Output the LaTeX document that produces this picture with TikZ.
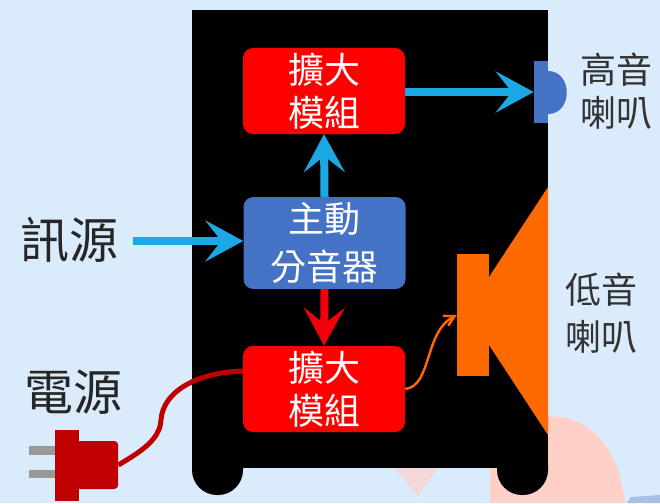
\documentclass[tikz,border=0pt]{standalone}
\usepackage{fontspec}
\setmainfont{Noto Sans CJK TC}
\usetikzlibrary{arrows.meta}
\definecolor{bgblue}{HTML}{DAEBFC}
\definecolor{blobpink}{HTML}{FFD0C8}
\definecolor{boxblue}{HTML}{4472C4}
\definecolor{flowblue}{HTML}{1CA8E4}
\definecolor{flowred}{HTML}{F00008}
\definecolor{cordred}{HTML}{C00000}
\definecolor{hornorange}{HTML}{FF6A00}
\tikzset{
  ampbox/.style={fill=red,rounded corners=10pt,minimum width=162pt,minimum height=86pt,
    text=white,align=center,font=\fontsize{36}{43}\selectfont},
  xoverbox/.style={ampbox,fill=boxblue,minimum height=92pt},
  bigtext/.style={font=\fontsize{49}{52}\selectfont,text=black!85},
  sidetext/.style={align=center,font=\fontsize{36}{43}\selectfont,text=black!80},
  flow/.style={line width=8pt,-{Stealth[length=38pt,width=41pt,inset=16pt]}},
}
\begin{document}
\begin{tikzpicture}[x=1pt,y=-1pt]
  \useasboundingbox (0,0) rectangle (660,503);
  \fill[bgblue] (0,0) rectangle (660,503);
  % background shapes
  \fill[blobpink!70!bgblue] (395,468) -- (438,468) -- (418,496) -- cycle;
  \fill[blobpink] (490,503) -- (490,468) -- (548,416)
    .. controls (600,416) and (620,460) .. (625,503) -- cycle;
  \fill[boxblue!35!bgblue] (627,503) -- (631,497) -- (660,495) -- (660,503) -- cycle;
  % cabinet
  \fill[black] (192,10) rectangle (548,468);
  \fill[black,rounded corners=25pt] (192,440) rectangle (243,495);
  \fill[black,rounded corners=25pt] (497,440) rectangle (548,495);
  % speakers
  \fill[hornorange] (489,277) -- (548,187) -- (548,435) -- (489,345) -- cycle;
  \node[fill=hornorange,minimum width=32pt,minimum height=122pt,inner sep=0pt] (woofer) at (473,315) {};
  \fill[boxblue] (548,71) .. controls (573,71) and (573,114) .. (548,114) -- cycle;
  \node[fill=boxblue,minimum width=14pt,minimum height=62pt,inner sep=0pt] (tweeter) at (541,92) {};
  % boxes
  \node[ampbox] (amphi) at (324,91) {擴大\\模組};
  \node[xoverbox] (xover) at (324.5,243) {主動\\[5pt]分音器};
  \node[ampbox] (amplo) at (324,389) {擴大\\模組};
  % labels
  \node[bigtext] (signal) at (69,240) {訊源};
  \node[bigtext] (power) at (73,392) {電源};
  \node[sidetext] (hilabel) at (616,91) {高音\\喇叭};
  \node[sidetext] (lolabel) at (601.5,313) {低音\\[4pt]喇叭};
  % plug
  \fill[black!40] (29,446) rectangle (56,455);
  \fill[black!40] (29,470) rectangle (56,478);
  \node[fill=cordred,minimum width=24pt,minimum height=71pt,inner sep=0pt] (flange) at (67,465) {};
  \node[fill=cordred,rounded corners=4pt,minimum width=42pt,minimum height=48pt,inner sep=0pt,anchor=west] (plug) at (76,465) {};
  % connectors
  \coordinate (feed) at (133,241);
  \draw[flow,flowblue] (amphi.east |- tweeter.west) -- (tweeter.west);
  \draw[flow,flowblue] (xover.north) -- (amphi.south);
  \draw[flow,flowblue] (feed) -- (xover.west |- feed);
  \draw[flow,flowred] (xover.south) -- (amplo.north);
  \draw[hornorange,line width=2.4pt,-{Straight Barb[length=10pt,width=11pt]}]
    (amplo.east) .. controls (432,386) and (424,332) .. (woofer.west);
  \draw[cordred,line width=5pt] (plug.east) .. controls (140,452) and (160,440) .. (161,420)
    .. controls (163,390) and (200,372) .. (243,371);
\end{tikzpicture}
\end{document}
